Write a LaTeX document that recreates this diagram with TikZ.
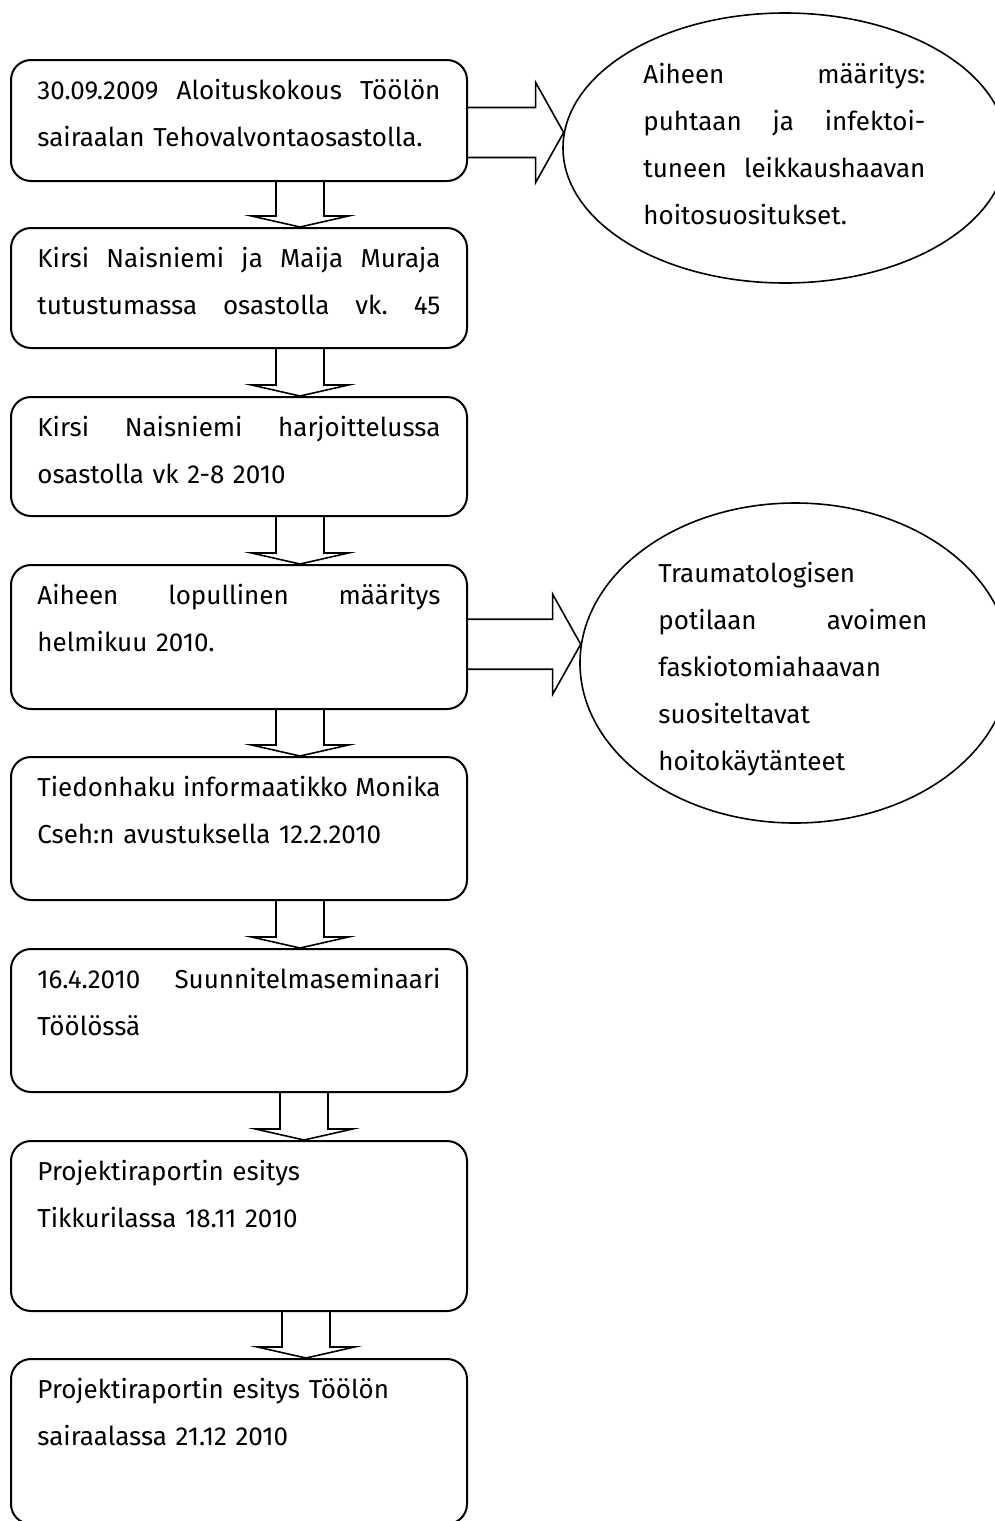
\documentclass[tikz,border=0pt]{standalone}
\usepackage{fontspec}
\setmainfont{Fira Sans}
\usetikzlibrary{calc,shapes.geometric}
\tikzset{>=stealth}

% a line stretched to the full text width (words split by \hfill)
\newcommand{\jline}[2][201.5pt]{\makebox[#1][s]{#2}}
% outlined block arrow from one box down to the next
\newcommand{\fatdown}[3]{%
  \draw[fat] ($(#1.south)+(#3-24,0)$) -- ($(#2.north)+(#3-24,-11)$)
    -- ($(#2.north)+(#3-48.5,-11)$) -- ($(#2.north)+(#3,0)$)
    -- ($(#2.north)+(#3+48.5,-11)$) -- ($(#2.north)+(#3+24,-11)$)
    -- ($(#1.south)+(#3+24,0)$);}
% outlined block arrow from a box to a point on an ellipse
\newcommand{\fatright}[2]{%
  \draw[fat] let \p1=(#2), \p2=(#1.east) in
    (\x2,\y1+12.5pt) -- (\x1-14pt,\y1+12.5pt) -- (\x1-14pt,\y1+25pt) -- (\p1)
    -- (\x1-14pt,\y1-25pt) -- (\x1-14pt,\y1-12.5pt) -- (\x2,\y1-12.5pt);}

\begin{document}
\begin{tikzpicture}[x=0.5pt,y=-0.5pt,
  stage/.style={draw,line width=1pt,rounded corners=10pt,minimum width=228pt,inner sep=0pt},
  stagetext/.style={anchor=base west,inner sep=0pt,text width=201.5pt,align=left,
    font=\fontsize{13}{23.5}\selectfont},
  topic/.style={draw,ellipse,line width=0.8pt,inner sep=0pt},
  fat/.style={draw,line width=0.8pt,line join=miter}]
\useasboundingbox (0,0) rectangle (995,1521);
\clip (0,0) rectangle (995,1521);

% stages
\node[stage,minimum height=60.5pt] (b1) at (239,120.5) {};
\node[stage,minimum height=60pt] (b2) at (239,288) {};
\node[stage,minimum height=59.5pt] (b3) at (239,456.5) {};
\node[stage,minimum height=72pt] (b4) at (239,637) {};
\node[stage,minimum height=71.5pt] (b5) at (239,828.5) {};
\node[stage,minimum height=71.5pt] (b6) at (239,1020.5) {};
\node[stage,minimum height=85pt] (b7) at (239,1226) {};
\node[stage,minimum height=82.5pt] (b8) at (239,1441.5) {};

\node[stagetext] (s1) at ($(b1.north west)+(27,40)$)
  {\jline{30.09.2009\hfill Aloituskokous\hfill Töölön}\\ sairaalan Tehovalvontaosastolla.};
\node[stagetext] (s2) at ($(b2.north west)+(27,40)$)
  {\jline{Kirsi\hfill Naisniemi\hfill ja\hfill Maija\hfill Muraja}\\
   \jline{tutustumassa\hfill osastolla\hfill vk.\hfill 45}};
\node[stagetext] (s3) at ($(b3.north west)+(27,40)$)
  {\jline{Kirsi\hfill Naisniemi\hfill harjoittelussa}\\ osastolla vk 2-8 2010};
\node[stagetext] (s4) at ($(b4.north west)+(27,40)$)
  {\jline{Aiheen\hfill lopullinen\hfill määritys}\\ helmikuu 2010.};
\node[stagetext] (s5) at ($(b5.north west)+(27,40)$)
  {\jline{Tiedonhaku\hfill informaatikko\hfill Monika}\\ Cseh:n avustuksella 12.2.2010};
\node[stagetext] (s6) at ($(b6.north west)+(27,40)$)
  {\jline{16.4.2010\hfill Suunnitelmaseminaari}\\ Töölössä};
\node[stagetext] (s7) at ($(b7.north west)+(27,40)$)
  {Projektiraportin esitys\\ Tikkurilassa 18.11 2010};
\node[stagetext] (s8) at ($(b8.north west)+(27,40)$)
  {Projektiraportin esitys Töölön\\ sairaalassa 21.12 2010};

% topics
\node[topic,minimum width=222pt,minimum height=135pt] (e1) at (785,148) {};
\node[topic,minimum width=215pt,minimum height=160pt] (e2) at (795,663) {};
\node[stagetext,text width=141pt] (p1) at (643,83)
  {\jline[141pt]{Aiheen\hfill määritys:}\\ \jline[141pt]{puhtaan\hfill ja\hfill infektoi-}\\
   \jline[141pt]{tuneen\hfill leikkaushaavan}\\ hoitosuositukset.};
\node[stagetext,text width=134.5pt] (p2) at (658,582)
  {Traumatologisen\\ \jline[134.5pt]{potilaan\hfill avoimen}\\ faskiotomiahaavan\\
   suositeltavat\\ hoitokäytänteet};

% arrows
\fatdown{b1}{b2}{61}
\fatdown{b2}{b3}{61}
\fatdown{b3}{b4}{61}
\fatdown{b4}{b5}{61}
\fatdown{b5}{b6}{61}
\fatdown{b6}{b7}{65}
\fatdown{b7}{b8}{67}
\coordinate (t1) at (e1.176);
\coordinate (t2) at (e2.175);
\fatright{b1}{t1}
\fatright{b4}{t2}
\end{tikzpicture}
\end{document}
